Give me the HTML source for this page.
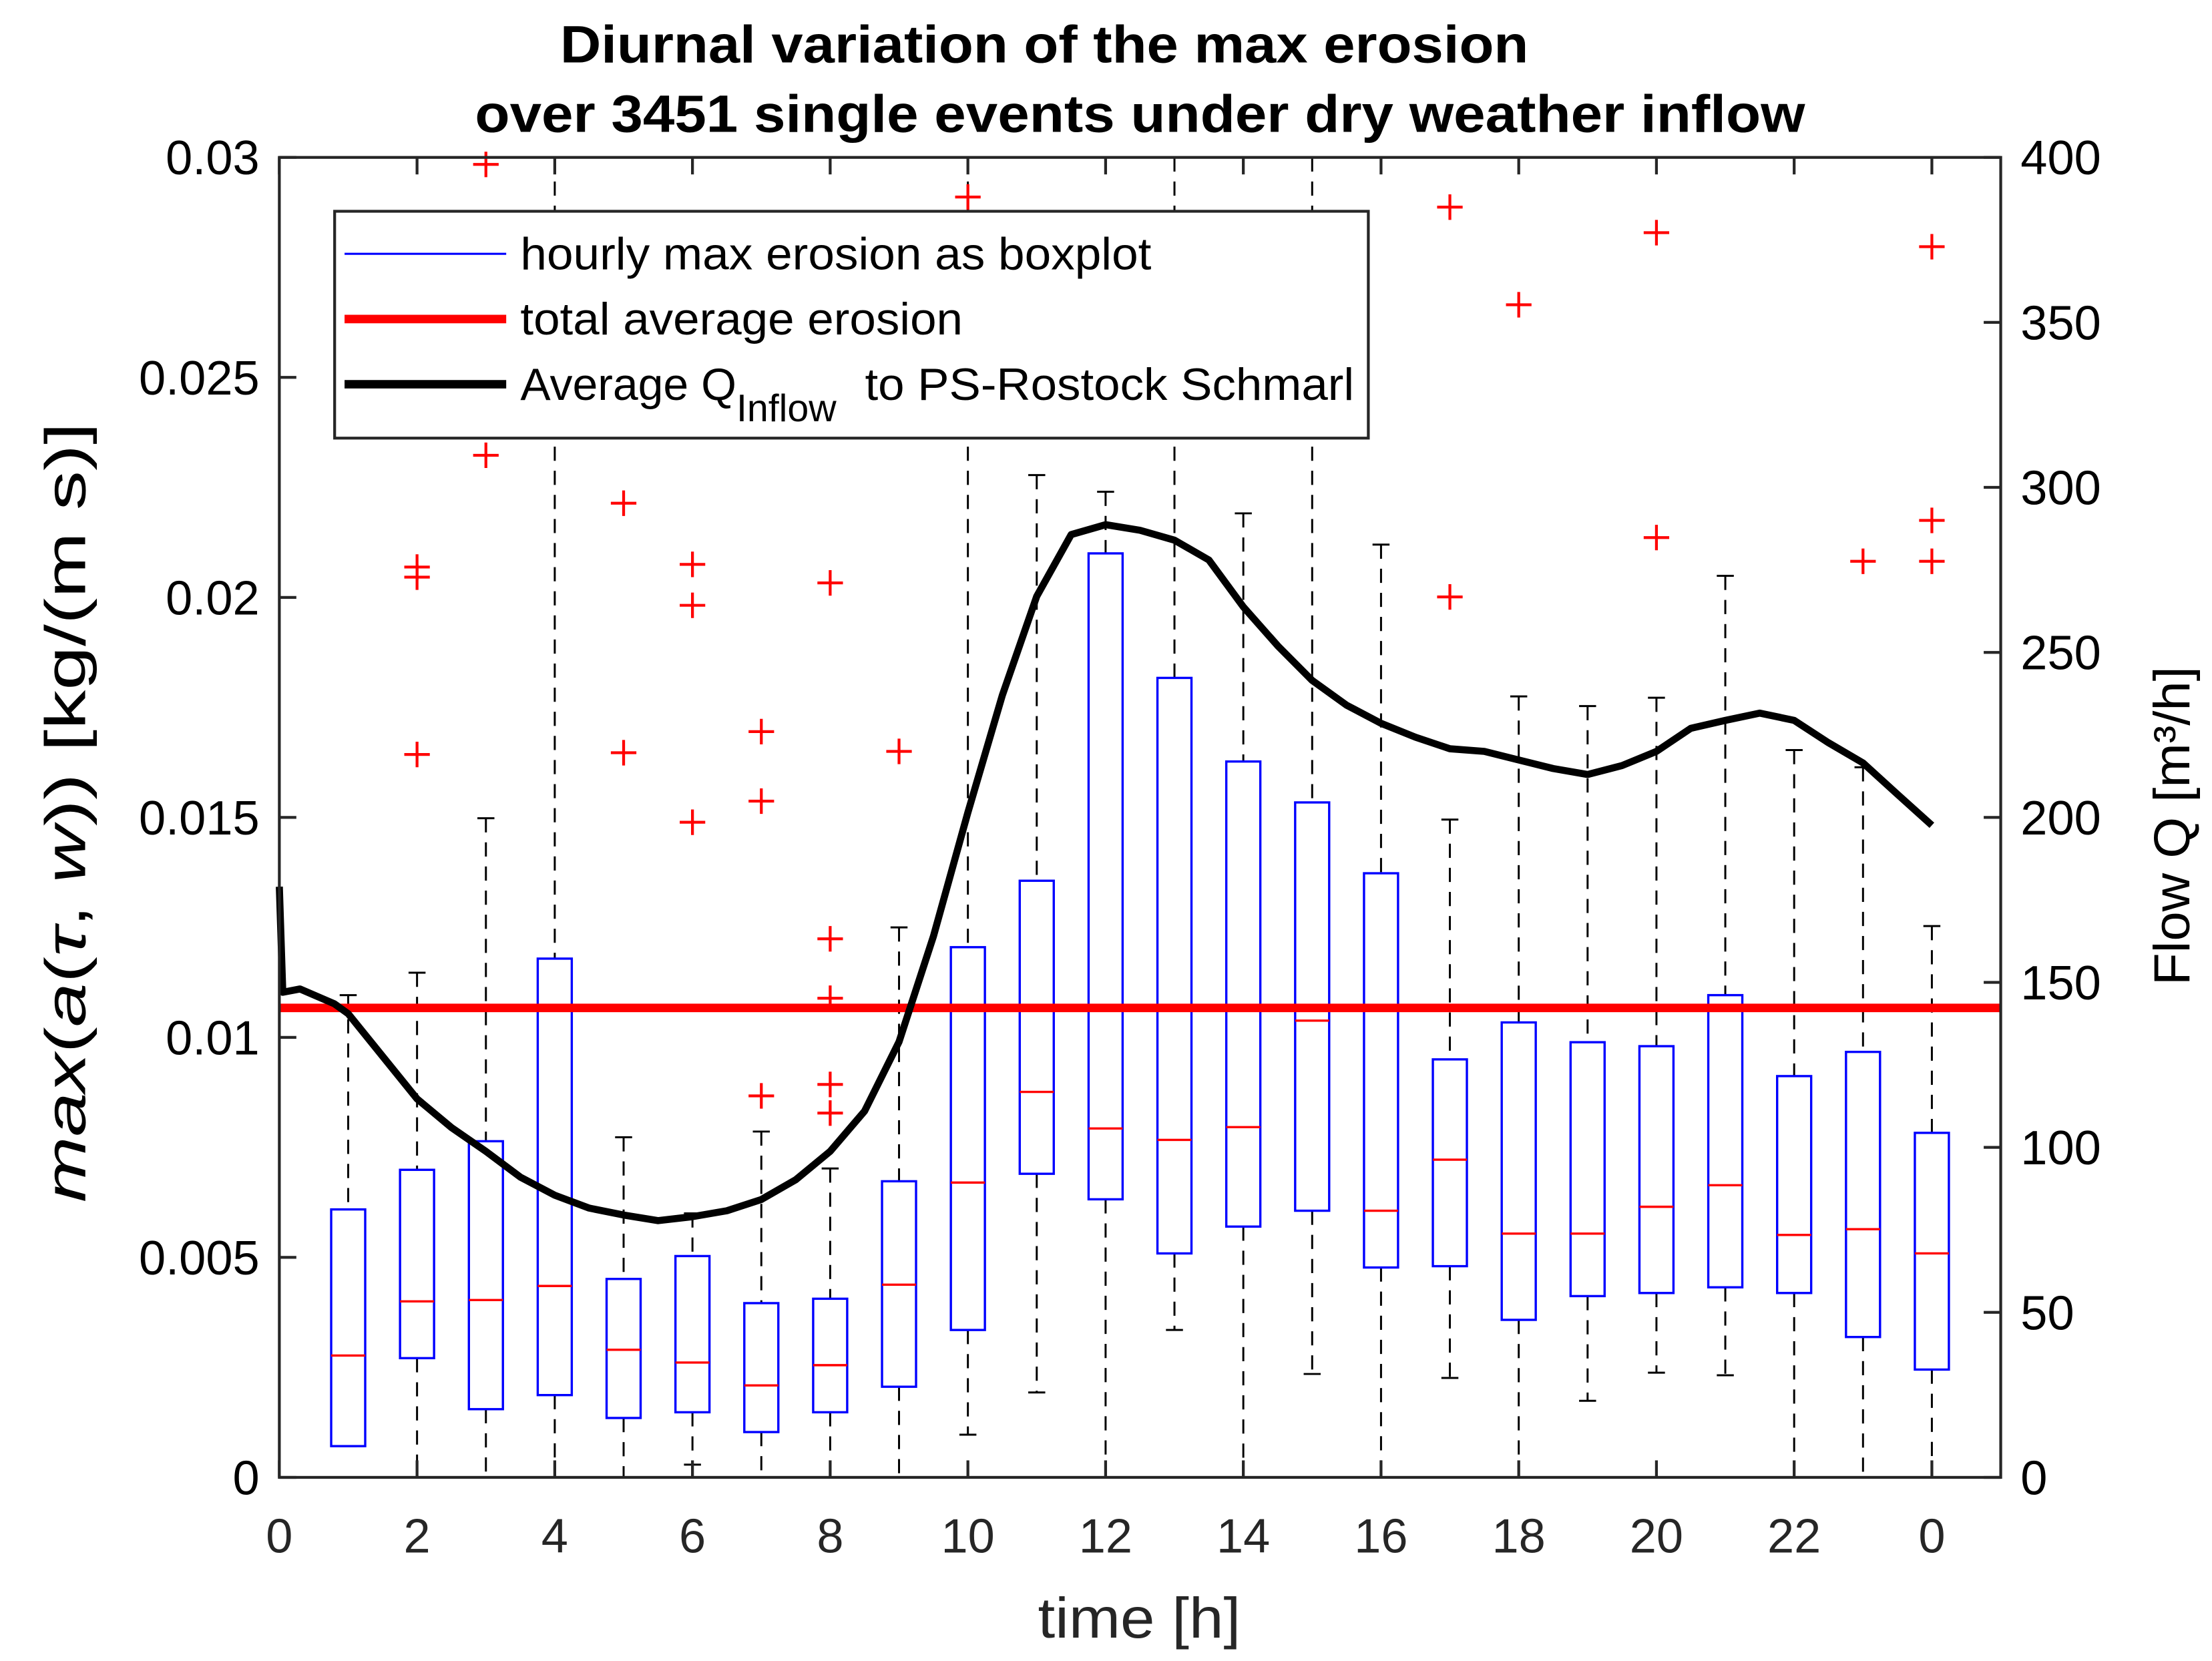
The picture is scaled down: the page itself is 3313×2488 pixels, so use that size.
<!DOCTYPE html>
<html><head><meta charset="utf-8"><style>
html,body{margin:0;padding:0;background:#fff;}
svg{display:block;}
text{font-family:"Liberation Sans",sans-serif;}
</style></head><body>
<svg id="chart" xmlns="http://www.w3.org/2000/svg" width="3313" height="2488" viewBox="0 0 1560 1171.5">
<rect width="1560" height="1171.5" fill="#fff"/>
<g id="plot"></g>
</svg>
<script>
const hours=[1,2,3,4,5,6,7,8,9,10,11,12,13,14,15,16,17,18,19,20,21,22,23,24];
const whiskerHi=[0.01096,0.01147,0.01498,0.03,0.00773,0.006,0.00786,0.00702,0.0125,0.03,0.02278,0.0224,0.03,0.02191,0.03,0.0212,0.01495,0.01775,0.01753,0.01772,0.02049,0.01653,0.01614,0.01253];
const q3=[0.00609,0.00699,0.00764,0.01179,0.00451,0.00503,0.00396,0.00406,0.00673,0.01205,0.01356,0.021,0.01817,0.01627,0.01534,0.01373,0.0095,0.01034,0.00989,0.0098,0.01096,0.00912,0.00967,0.00783];
const medians=[0.00277,0.004,0.00403,0.00435,0.0029,0.00261,0.00209,0.00255,0.00438,0.0067,0.00876,0.00793,0.00767,0.00796,0.01038,0.00606,0.00722,0.00554,0.00554,0.00615,0.00664,0.00551,0.00564,0.00509];
const q1=[0.00071,0.00271,0.00155,0.00187,0.00135,0.00148,0.00103,0.00148,0.00206,0.00335,0.0069,0.00632,0.00509,0.0057,0.00606,0.00477,0.0048,0.00358,0.00412,0.00419,0.00432,0.00419,0.00319,0.00245];
const whiskerLo=[0.00071,0,0,0,0,0.00029,0,0,0,0.00097,0.00193,0,0.00335,0,0.00235,0,0.00226,0,0.00174,0.00238,0.00232,0,0,0];
const outlierHours=[2,2,2,3,3,5,5,6,6,6,7,7,7,8,8,8,8,8,9,10,17,17,18,20,20,23,24,24,24];
const outlierVals=[0.02069,0.02046,0.01643,0.02984,0.02323,0.02214,0.01647,0.02075,0.01982,0.01489,0.01695,0.01537,0.00867,0.02033,0.01224,0.01089,0.00893,0.00828,0.0165,0.0291,0.02887,0.02001,0.02665,0.02829,0.02136,0.02082,0.02797,0.02175,0.02082];
const avgErosion=0.01067;
const flowT=[0,0.05,0.3,0.8,1,1.5,2,2.5,3,3.5,4,4.5,5,5.5,6,6.5,7,7.5,8,8.5,9,9.5,10,10.5,11,11.5,12,12.5,13,13.5,14,14.5,15,15.5,16,16.5,17,17.5,18,18.5,19,19.5,20,20.5,21,21.5,22,22.5,23,23.5,24];
const flowQ=[179,147,148,143.5,140.5,127.6,114.7,106,98.8,91,85.5,81.6,79.5,77.8,79,80.8,84.2,90.2,98.8,111,132,164,201.5,237,267,285.7,288.7,287,284,278,263.8,252,241.5,234,228.5,224.3,220.8,220,217.4,214.8,213,215.7,220,227,229.4,231.6,229.4,222.6,216.5,207,197.6];
const xTicks=[0,2,4,6,8,10,12,14,16,18,20,22,24];
const xTickLabels=["0","2","4","6","8","10","12","14","16","18","20","22","0"];
const yTicks=[0,0.005,0.01,0.015,0.02,0.025,0.03];
const yTickLabels=["0","0.005","0.01","0.015","0.02","0.025","0.03"];
const qTicks=[0,50,100,150,200,250,300,350,400];

const L=197,R=1411,T=111,B=1042;
const X=h=>L+h*(R-L)/25;
const Y=v=>B-v/0.03*(B-T);
const YQ=q=>B-q/400*(B-T);
const NS="http://www.w3.org/2000/svg";
const g=document.getElementById('plot');
function mk(tag,attrs,parent){const e=document.createElementNS(NS,tag);for(const k in attrs)e.setAttribute(k,attrs[k]);(parent||g).appendChild(e);return e;}

hours.forEach((h,i)=>{
  const x=X(h),hw=12,cw=6;
  const grp=mk('g',{});
  
  
  mk('line',{x1:x,x2:x,y1:Y(whiskerHi[i]),y2:Y(q3[i]),stroke:'#000','stroke-width':1.4,'stroke-dasharray':'10,7'},grp);
  mk('line',{x1:x,x2:x,y1:Y(q1[i]),y2:Y(whiskerLo[i]),stroke:'#000','stroke-width':1.4,'stroke-dasharray':'10,7'},grp);
  mk('line',{x1:x-cw,x2:x+cw,y1:Y(whiskerHi[i]),y2:Y(whiskerHi[i]),stroke:'#000','stroke-width':1.4},grp);
  mk('line',{x1:x-cw,x2:x+cw,y1:Y(whiskerLo[i]),y2:Y(whiskerLo[i]),stroke:'#000','stroke-width':1.4},grp);
  mk('rect',{x:x-hw,y:Y(q3[i]),width:2*hw,height:Y(q1[i])-Y(q3[i]),fill:'none',stroke:'#0000ff','stroke-width':1.6},grp);
  mk('line',{x1:x-hw,x2:x+hw,y1:Y(medians[i]),y2:Y(medians[i]),stroke:'#ff0000','stroke-width':1.6},grp);
});
outlierHours.forEach((h,i)=>{
  const x=X(h),y=Y(outlierVals[i]);
  const p=mk('path',{d:`M${x-9},${y}H${x+9}M${x},${y-9}V${y+9}`,stroke:'#ff0000','stroke-width':2});
  
  
});
const al=mk('line',{x1:L,x2:R,y1:Y(avgErosion),y2:Y(avgErosion),stroke:'#ff0000','stroke-width':6});


const fl=mk('polyline',{points:flowT.map((t,i)=>X(t)+','+YQ(flowQ[i])).join(' '),fill:'none',stroke:'#000','stroke-width':5,'stroke-linejoin':'round'});


const ax=mk('rect',{x:L,y:T,width:R-L,height:B-T,fill:'none',stroke:'#262626','stroke-width':2});


xTicks.forEach((t,i)=>{
  mk('line',{x1:X(t),x2:X(t),y1:B,y2:B-12,stroke:'#262626','stroke-width':2});
  mk('line',{x1:X(t),x2:X(t),y1:T,y2:T+12,stroke:'#262626','stroke-width':2});
  const tx=mk('text',{x:X(t),y:B+53,'text-anchor':'middle','font-size':34,fill:'#262626'});
  tx.textContent=xTickLabels[i];
  
  
});
yTicks.forEach((t,i)=>{
  mk('line',{x1:L,x2:L+12,y1:Y(t),y2:Y(t),stroke:'#262626','stroke-width':2});
  const tx=mk('text',{x:L-14,y:Y(t)+12,'text-anchor':'end','font-size':34,fill:'#000'});
  tx.textContent=yTickLabels[i];
  
  
});
qTicks.forEach(q=>{
  mk('line',{x1:R,x2:R-12,y1:YQ(q),y2:YQ(q),stroke:'#262626','stroke-width':2});
  const tx=mk('text',{x:R+14,y:YQ(q)+12,'text-anchor':'start','font-size':34,fill:'#000'});
  tx.textContent=String(q);
  
  
});
</script>
<svg xmlns="http://www.w3.org/2000/svg" width="3313" height="2488" viewBox="0 0 1560 1171.5" style="position:absolute;left:0;top:0">
<text x="395" y="44" textLength="683" lengthAdjust="spacingAndGlyphs" font-size="37" font-weight="bold" font-family="Liberation Sans, sans-serif">Diurnal variation of the max erosion</text>
<text x="335" y="93" textLength="938" lengthAdjust="spacingAndGlyphs" font-size="37" font-weight="bold" font-family="Liberation Sans, sans-serif">over 3451 single events under dry weather inflow</text>
<text x="732" y="1155" textLength="143" lengthAdjust="spacingAndGlyphs" font-size="40" fill="#262626" font-family="Liberation Sans, sans-serif">time [h]</text>
<text transform="translate(60,848) rotate(-90)" textLength="550" lengthAdjust="spacingAndGlyphs" font-size="40" font-family="Liberation Serif, serif"><tspan font-style="italic">max</tspan>(<tspan font-style="italic">a</tspan>(<tspan font-style="italic">τ</tspan>, <tspan font-style="italic">w</tspan>))  [kg/(m s)]</text>
<text transform="translate(1544,695) rotate(-90)" textLength="225" lengthAdjust="spacingAndGlyphs" font-size="36" font-family="Liberation Sans, sans-serif">Flow Q [m³/h]</text>
<g>
<rect x="236" y="149" width="729" height="160" fill="#fff" stroke="#262626" stroke-width="2"/>
<line x1="243" x2="357" y1="179" y2="179" stroke="#0000ff" stroke-width="1.5"/>
<text x="367" y="190" textLength="445" lengthAdjust="spacingAndGlyphs" font-size="32" font-family="Liberation Sans, sans-serif">hourly max erosion as boxplot</text>
<line x1="243" x2="357" y1="225" y2="225" stroke="#ff0000" stroke-width="6"/>
<text x="367" y="236" textLength="312" lengthAdjust="spacingAndGlyphs" font-size="32" font-family="Liberation Sans, sans-serif">total average erosion</text>
<line x1="243" x2="357" y1="271" y2="271" stroke="#000" stroke-width="6"/>
<text x="367" y="282" font-size="32" font-family="Liberation Sans, sans-serif">Average Q<tspan dy="15" font-size="27">Inflow</tspan><tspan dy="-15" x="610" textLength="345" lengthAdjust="spacingAndGlyphs">to PS-Rostock Schmarl</tspan></text>
</g>
</svg>
</body></html>
